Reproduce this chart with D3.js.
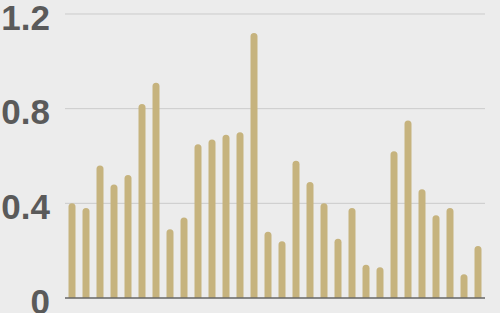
<!DOCTYPE html>
<html>
<head>
<meta charset="utf-8">
<script src="https://cdn.jsdelivr.net/npm/d3@7"></script>
<style>
  body { margin: 0; background: #ececec; }
  .tick text { font-family: "Liberation Sans", Arial, sans-serif; font-weight: bold; }
</style>
</head>
<body>
<div class="chart"></div>
<script>
var values = [0.40, 0.38, 0.56, 0.48, 0.52, 0.82, 0.91, 0.29, 0.34, 0.65,
              0.67, 0.69, 0.70, 1.12, 0.28, 0.24, 0.58, 0.49, 0.40, 0.25,
              0.38, 0.14, 0.13, 0.62, 0.75, 0.46, 0.35, 0.38, 0.10, 0.22];
var yTicks = [0, 0.4, 0.8, 1.2];
var yLabels = ["0", "0.4", "0.8", "1.2"];

var margin = {top: 14, right: 15, bottom: 15, left: 65},
    width = 500 - margin.left - margin.right,
    height = 313 - margin.top - margin.bottom;

var svg = d3.select(".chart").append("svg")
    .attr("width", 500)
    .attr("height", 313)
    .style("display", "block")
  .append("g")
    .attr("transform", "translate(" + margin.left + "," + margin.top + ")");

var x = d3.scaleBand()
    .domain(d3.range(values.length))
    .range([0, width])
    .paddingInner(0.5)
    .paddingOuter(0.25);

var y = d3.scaleLinear()
    .domain([0, 1.2])
    .range([height, 0]);

// gridlines
svg.selectAll(".grid")
    .data(yTicks.slice(1))
    .enter().append("line")
    .attr("class", "grid")
    .attr("x1", 0)
    .attr("x2", width)
    .attr("y1", function(d){ return y(d); })
    .attr("y2", function(d){ return y(d); })
    .attr("stroke", "#cbcbcb")
    .attr("stroke-width", 1);

// bars with rounded tops
var r = 3.5;
svg.selectAll(".bar")
    .data(values)
    .enter().append("path")
    .attr("class", "bar")
    .attr("fill", "#c6b37e")
    .attr("d", function(d, i){
      var x0 = x(i), w = x.bandwidth(), top = y(d), bot = y(0);
      return "M" + x0 + "," + bot +
             "V" + (top + r) +
             "A" + r + "," + r + " 0 0 1 " + (x0 + w) + "," + (top + r) +
             "V" + bot + "Z";
    });

// baseline
svg.append("line")
    .attr("x1", 0)
    .attr("x2", width)
    .attr("y1", y(0))
    .attr("y2", y(0))
    .attr("stroke", "#666")
    .attr("stroke-width", 1.5);

var yAxis = d3.axisLeft(y)
    .tickValues(yTicks)
    .tickSize(0)
    .tickPadding(15)
    .tickFormat(function(d, i){ return yLabels[i]; });

svg.append("g")
    .attr("class", "y axis")
    .call(yAxis)
    .call(function(g){ g.select(".domain").remove(); })
    .selectAll("text")
    .attr("fill", "#5a5a5a")
    .attr("font-size", 35)
    .attr("dy", 15);
</script>
</body>
</html>
